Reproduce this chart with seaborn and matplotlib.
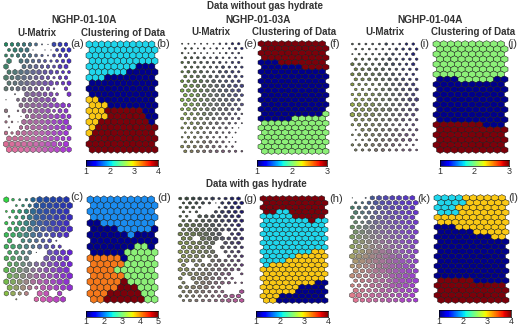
import numpy as np
import pandas as pd
import seaborn as sns
import matplotlib
matplotlib.use('Agg')
import matplotlib.pyplot as plt
from matplotlib.path import Path

sns.set_style('white')
plt.rcParams['font.family'] = ['Liberation Sans', 'DejaVu Sans']

# cluster labels per SOM row
clusters_b = ['22222222222', '22222222222', '22222222222', '22222222222', '22222222111',
              '22222211111', '22211111111', '11111111111', '11111111111', '11111111111',
              '33111111111', '33311111111', '33344444411', '33344444411', '33444444441',
              '34444444444', '34444444444', '44444444444', '44444444444', '44444444444']
clusters_f = ['3333333333', '3333333333', '3333333333', '3333333333', '1113333333', '1111113333',
              '1111111111', '1111111111', '1111111111', '1111111111', '1111111111', '1111111111',
              '1111111111', '1111111111', '1111111111', '1111111112', '1111122222', '2222222222',
              '2222222222', '2222222222', '2222222222', '2222222222', '2222222222', '2222222222']
clusters_j = ['2222222222', '2222222222', '2222222222', '2222222222', '2222222222', '2222222222',
              '2222222222', '1112222211', '1111111111', '1111111111', '1111111111', '1111111111',
              '1111111111', '1111111111', '1111111111', '1111111111', '3333333111', '3333333333',
              '3333333333', '3333333333', '3333333333', '3333333333']
clusters_d = ['2222222222', '2222222222', '2222222222', '2222222222', '1122222222', '1111222221',
              '1111112111', '1111111111', '1111111331', '1111133333', '4444413333', '4444433333',
              '4444333333', '4444433333', '4444453333', '4444555333', '4445555533', '4455555533']
clusters_h = ['4444444444', '4444444444', '4444444444', '4422444444', '2222244444', '2222222422',
              '2222222222', '2222222222', '2222222222', '2222222222', '2222222222', '2222222222',
              '2222222233', '2222233333', '2222333333', '2333333333', '3333333333', '3333333333',
              '3333333333', '3333333311', '3333331111', '3333311111', '3331111111', '3311111111']
clusters_l = ['2222333333', '2222333333', '2223333333', '2223333333', '3333333333', '3333333333',
              '1113333333', '1111133333', '1111111133', '1111111111', '1111111111', '1111111111',
              '1111111111', '1111111111', '1111111111', '1111111111', '1111111111', '4444411111',
              '4444444444', '4444444444', '4444444444', '4444444444']

# hexagon size per cell of the U-matrices, 0 to 9
umat_a = ['66666521776', '57771011577', '55666542566', '80776654567', '80077766577',
          '78888877655', '87887776466', '77888888667', '76777666306', '02088877507',
          '10577888700', '00788888886', '60377888577', '30168888887', '43188888889',
          '20678888888', '64788888888', '88888888877', '99999999979', '99999999998']
umat_e = ['2222223344', '3323232344', '3232222333', '4444343333', '4444444344', '4444445444',
          '4555445554', '5555555554', '5566565555', '6666666666', '6666666666', '6666666665',
          '6666666665', '6666666655', '5665666655', '5556655543', '5555555544', '4555554432',
          '4455444421', '3344443320', '3444433310', '4445544220', '5555554330', '5555555443']
umat_i = ['3333343344', '3333334444', '2333344345', '4444454444', '5444455445', '5555544444',
          '5555555444', '5555555544', '5444455555', '4444555555', '4555555555', '5555555566',
          '6666555555', '6666665555', '7666555555', '5555555544', '4555554444', '2555555444',
          '3455555554', '2345555553', '4455555433', '4445544443']
umat_c = ['8434799999', '0345899999', '3567999999', '3568999999', '5578999999', '6778889999',
          '7788886888', '7066666200', '7777677650', '6666108888', '7777008888', '7777778888',
          '8888778899', '8888888889', '8888888899', '8887588889', '7756088070', '0200789980']
umat_g = ['5666564566', '4555415566', '4554003566', '4340056666', '4406666666', '5556666666',
          '6777776556', '6777776656', '7788877056', '7708887666', '7777770666', '7777706555',
          '7777770555', '7776660555', '7766066555', '6066666555', '7755666665', '6777766604',
          '6077766440', '5067766533', '6677755000', '5666555007', '5555555677', '4555556777']
umat_k = ['1027888888', '4468888888', '6666888888', '7667788888', '6567888888', '6578888888',
          '7788888888', '8888888888', '8888888888', '8888888888', '8888888888', '8899998888',
          '9999999988', '9999999988', '7888999998', '8789999998', '8878889999', '6778889999',
          '6668889998', '8777888888', '9978887888', '8787787877']

# bars and their tick labels
ticks_b = ['1', '2', '3', '4']
ticks_f = ['1', '2', '3']
ticks_j = ['1', '2', '3']
ticks_d = ['1', '2', '3', '4', '5']
ticks_h = ['1', '2', '3', '4']
ticks_l = ['1', '2', '3', '4']

DARK = '#00008c'
CYAN = '#1fd6ec'
YELL = '#fac814'
RED = '#7d000a'
GREEN = '#8cf078'
ORNG = '#f5781a'
SKY = '#1a8cf0'

cols_b = {'1': DARK, '2': CYAN, '3': YELL, '4': RED}
cols_f = {'1': DARK, '2': GREEN, '3': RED}
cols_d = {'1': DARK, '2': SKY, '3': GREEN, '4': ORNG, '5': RED}

# colour of the U-matrix across the map: 3 x 3 anchor colours
tint_a = [['#1e8a60', '#4a6a90', '#2828c8'], ['#707878', '#8860a0', '#8030d0'], ['#e86c98', '#d070b0', '#a830dc']]
tint_e = [['#304030', '#303050', '#101070'], ['#86c046', '#708070', '#505090'], ['#909050', '#806878', '#805080']]
tint_i = [['#405040', '#304050', '#101080'], ['#a0b840', '#708060', '#403880'], ['#808860', '#807070', '#805090']]
tint_c = [['#30d840', '#2050a0', '#2030b0'], ['#40b060', '#6070a0', '#6020d8'], ['#90c040', '#e060b0', '#a030d0']]
tint_g = [['#304830', '#303850', '#101070'], ['#90a050', '#707860', '#403070'], ['#808060', '#907080', '#c058a0']]
tint_k = [['#30706a', '#5048b0', '#5a30d0'], ['#98a860', '#a07898', '#8848c8'], ['#e87890', '#b860a8', '#a838d8']]


def hex_marker(w, h):
    return Path([(0, h / 2), (w / 2, h / 4), (w / 2, -h / 4), (0, -h / 2),
                 (-w / 2, -h / 4), (-w / 2, h / 4), (0, h / 2)], closed=True)


def make_ax(fig, x0, x1, y0, y1):
    W, H = fig.get_size_inches() * fig.dpi
    return fig.add_axes([x0 / W, 1 - y1 / H, (x1 - x0) / W, (y1 - y0) / H])


def grid_frame(rows):
    nr, nc = len(rows), len(rows[0])
    recs = []
    for r, row in enumerate(rows):
        for c, v in enumerate(row):
            recs.append((c + 0.5 * (r % 2), r, v))
    return pd.DataFrame(recs, columns=['x', 'y', 'v']), nr, nc


def setup(ax, nr, nc, x0, x1, y0, y1):
    ax.set_xlim(-0.5, nc)
    ax.set_ylim(nr - 0.2, -0.8)
    ax.axis('off')
    w = (x1 - x0) / (nc + 0.5)
    h = (y1 - y0) / (nr + 0.6) / 0.75
    return w, h, (0.72 * max(w, h)) ** 2


def cluster_panel(fig, rows, palette, box):
    ax = make_ax(fig, *box)
    df, nr, nc = grid_frame(rows)
    w, h, s = setup(ax, nr, nc, *box)
    sns.scatterplot(data=df, x='x', y='y', hue='v', palette=palette, marker=hex_marker(w, h),
                    s=s, edgecolor='#181818', linewidth=0.35, legend=False, ax=ax, clip_on=False)
    ax.axis('off')


def umatrix_panel(fig, rows, tint, box, edge='#383838', lw=0.35):
    ax = make_ax(fig, *box)
    df, nr, nc = grid_frame(rows)
    w, h, s = setup(ax, nr, nc, *box)
    anchors = np.array([[matplotlib.colors.to_rgb(c) for c in row] for row in tint])
    fx = df['x'].values / (nc - 0.5) * 2
    fy = df['y'].values / (nr - 1) * 2
    ix, iy = np.minimum(fx.astype(int), 1), np.minimum(fy.astype(int), 1)
    tx, ty = (fx - ix)[:, None], (fy - iy)[:, None]
    rgb = (anchors[iy, ix] * (1 - tx) * (1 - ty) + anchors[iy, ix + 1] * tx * (1 - ty)
           + anchors[iy + 1, ix] * (1 - tx) * ty + anchors[iy + 1, ix + 1] * tx * ty)
    df['cell'] = np.arange(len(df))
    df['d'] = df['v'].astype(int)
    keep = df['d'] > 0
    sizes = {d: 0.72 * s * (d / 9) ** 2 for d in range(1, 10)}
    sns.scatterplot(data=df[keep], x='x', y='y', hue='cell', palette=[tuple(c) for c in rgb[keep.values]],
                    size='d', sizes=sizes, marker=hex_marker(w, h), edgecolor=edge, linewidth=lw,
                    legend=False, ax=ax, clip_on=False)
    ax.axis('off')


def color_bar(fig, labels, box, label_y):
    ax = make_ax(fig, *box)
    grad = np.linspace(0, 1, 256)[None, :]
    sns.heatmap(grad, cmap='jet', cbar=False, ax=ax, xticklabels=False, yticklabels=False)
    for sp in ax.spines.values():
        sp.set_visible(True)
        sp.set_linewidth(0.5)
        sp.set_color('black')
    for i, lab in enumerate(labels):
        px = box[0] + (box[1] - box[0]) * i / (len(labels) - 1)
        fig.text(px / 520, 1 - label_y / 327, lab, ha='center', va='center', fontsize=6.5, color='#333333')


fig = plt.figure(figsize=(5.2, 3.27), dpi=100)

umatrix_panel(fig, umat_a, tint_a, (3, 72, 40, 154))
cluster_panel(fig, clusters_b, cols_b, (86, 158, 40, 154))
umatrix_panel(fig, umat_e, tint_e, (179, 245, 40, 155), lw=0.45)
cluster_panel(fig, clusters_f, cols_f, (258, 329, 40, 155))
umatrix_panel(fig, umat_i, tint_i, (349, 420, 40, 154), lw=0.45)
cluster_panel(fig, clusters_j, cols_f, (433, 508, 40, 154))
umatrix_panel(fig, umat_c, tint_c, (3, 73, 195, 304))
cluster_panel(fig, clusters_d, cols_d, (87, 158, 195, 304))
umatrix_panel(fig, umat_g, tint_g, (177, 245, 195, 304), lw=0.45)
cluster_panel(fig, clusters_h, cols_b, (260, 328, 195, 304))
umatrix_panel(fig, umat_k, tint_k, (349, 419, 194, 304))
cluster_panel(fig, clusters_l, cols_b, (434, 509, 194, 304))

color_bar(fig, ticks_b, (86, 158, 160, 166), 172)
color_bar(fig, ticks_f, (257, 327, 160, 166), 171)
color_bar(fig, ticks_j, (440, 509, 160, 166), 171)
color_bar(fig, ticks_d, (86, 158, 311, 317), 322)
color_bar(fig, ticks_h, (256, 328, 311, 317), 322)
color_bar(fig, ticks_l, (439, 511, 310, 317), 322)

# headings, placed by pixel position
heads = [('Data without gas hydrate', 265, 6, 7.0), ('Data with gas hydrate', 256, 184, 7.0),
         ('NGHP-01-10A', 84, 20, 7.3), ('NGHP-01-03A', 258, 20, 7.3), ('NGHP-01-04A', 430, 20, 7.3),
         ('U-Matrix', 37, 33, 7.0), ('Clustering of Data', 123, 33, 7.0),
         ('U-Matrix', 211, 32, 7.0), ('Clustering of Data', 294, 32, 7.0),
         ('U-Matrix', 385, 32, 7.0), ('Clustering of Data', 473, 32, 7.0)]
for txt, px, py, fs in heads:
    fig.text(px / 520, 1 - py / 327, txt, ha='center', va='center', fontsize=fs,
             fontweight='bold', color='#333333')

letters = [('(a)', 77, 44), ('(b)', 163, 44), ('(e)', 250, 44), ('(f)', 335, 44), ('(i)', 424, 44), ('(j)', 512, 44),
           ('(c)', 77, 197), ('(d)', 164, 198), ('(g)', 250, 199), ('(h)', 336, 199), ('(k)', 424, 199), ('(l)', 513, 198)]
for txt, px, py in letters:
    fig.text(px / 520, 1 - py / 327, txt, ha='center', va='center', fontsize=8, color='#333333')

fig.savefig('out.png', dpi=100, facecolor='white')
